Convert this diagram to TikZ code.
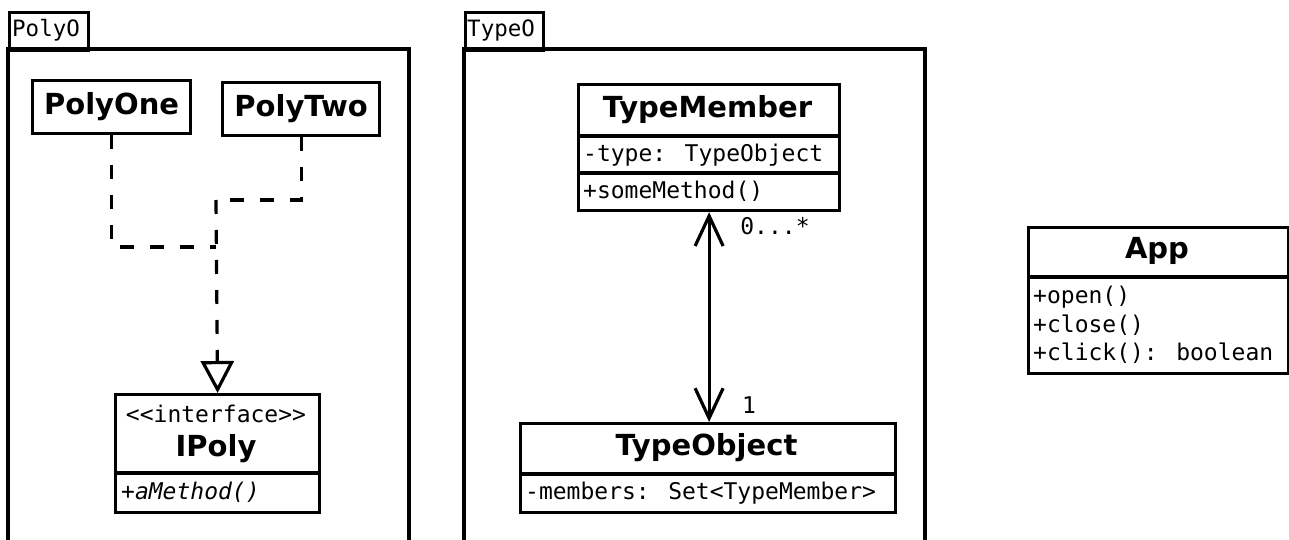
\documentclass[tikz,border=0pt]{standalone}
\usepackage{fontspec}
\setmainfont{DejaVu Sans}
\newfontfamily\umlmono{DejaVu Sans Mono}
\usetikzlibrary{arrows.meta}
\begin{document}
\begin{tikzpicture}[x=1pt,y=-1pt,
  pkgline/.style={draw, line width=3.2pt, line join=miter},
  tabnode/.style={draw, line width=3.2pt, inner sep=0pt, anchor=north west},
  tablabel/.style={font=\fontsize{22.5}{24}\umlmono, anchor=west, inner sep=0pt},
  cls/.style={draw, line width=3.2pt, inner sep=0pt, anchor=north west, fill=white},
  cname/.style={font=\fontsize{29}{32}\selectfont\bfseries, inner sep=0pt},
  stereo/.style={font=\fontsize{23}{26}\umlmono, inner sep=0pt},
  mem/.style={font=\fontsize{23}{26}\umlmono, anchor=west, inner sep=0pt},
  sep/.style={line width=3.2pt},
  dashline/.style={line width=3.2pt, dash pattern=on 14pt off 16pt},
  mult/.style={font=\fontsize{23}{26}\umlmono, inner sep=0pt},
  barb/.tip={Straight Barb[length=30pt,width=28pt,line join=miter]}]
\useasboundingbox (0,0) rectangle (1289,540);
\clip (0,0) rectangle (1289,540);

% ---- package PolyO
\node[tabnode, minimum width=79pt, minimum height=38pt] (tabpoly) at (8,11) {};
\node[tablabel] (lblpoly) at (12,30) {PolyO};
\draw[pkgline] (8,570) -- (8,49) -- (409,49) -- (409,570);

% ---- package TypeO
\node[tabnode, minimum width=78pt, minimum height=38pt] (tabtype) at (464,11) {};
\node[tablabel] (lbltype) at (467,30) {TypeO};
\draw[pkgline] (464,570) -- (464,49) -- (925,49) -- (925,570);

% ---- PolyOne / PolyTwo
\node[cls, minimum width=158pt, minimum height=53pt] (polyone) at (31,79) {};
\node[cname] (polyonet) at (polyone.center) {PolyOne};
\node[cls, minimum width=157pt, minimum height=53pt] (polytwo) at (221,81) {};
\node[cname] (polytwot) at (polytwo.center) {PolyTwo};

% ---- IPoly
\node[cls, minimum width=204pt, minimum height=118pt] (ipoly) at (114,393) {};
\node[stereo] (ipolyst) at (216,414) {<<interface>>};
\node[cname] (ipolyt) at (216,449) {IPoly};
\draw[sep] (ipoly.west |- 0,473) -- (ipoly.east |- 0,473);
\node[mem, font=\fontsize{23}{26}\umlmono\itshape] (ipolym) at (121,492) {+aMethod()};

% ---- generalization
\coordinate (j1) at (216,247);
\coordinate (j2) at (216,200);
\draw[dashline] (polyone.south) |- (j1);
\draw[dashline] (polytwo.south) |- (j2);
\draw[dashline, -{Triangle[open, length=32pt, width=33pt, fill=white, line join=miter]}] (j2) -- (ipoly.north);

% ---- TypeMember
\node[cls, minimum width=261pt, minimum height=126pt] (tm) at (577,83) {};
\node[cname] (tmt) at (707.5,110) {TypeMember};
\draw[sep] (tm.west |- 0,136) -- (tm.east |- 0,136);
\draw[sep] (tm.west |- 0,173) -- (tm.east |- 0,173);
\node[mem] (tma) at (583,155) {-type: TypeObject};
\node[mem] (tmm) at (583,191) {+someMethod()};

% ---- TypeObject
\node[cls, minimum width=375pt, minimum height=89pt] (to) at (519,422) {};
\node[cname] (tot) at (706.5,448) {TypeObject};
\draw[sep] (to.west |- 0,474) -- (to.east |- 0,474);
\node[mem] (toa) at (525,493) {-members: Set<TypeMember>};

% ---- association
\draw[line width=3.2pt, barb-barb] (tm.south) -- (tm.south |- to.north);
\node[mult] (m1) at (775,226) {0...*};
\node[mult] (m2) at (749,405) {1};

% ---- App
\node[cls, minimum width=260pt, minimum height=146pt] (app) at (1027,226) {};
\node[cname] (appt) at (1157,251) {App};
\draw[sep] (app.west |- 0,277) -- (app.east |- 0,277);
\node[mem] (appa) at (1033,297) {+open()};
\node[mem] (appb) at (1033,325) {+close()};
\node[mem] (appc) at (1033,353) {+click(): boolean};
\end{tikzpicture}
\end{document}
